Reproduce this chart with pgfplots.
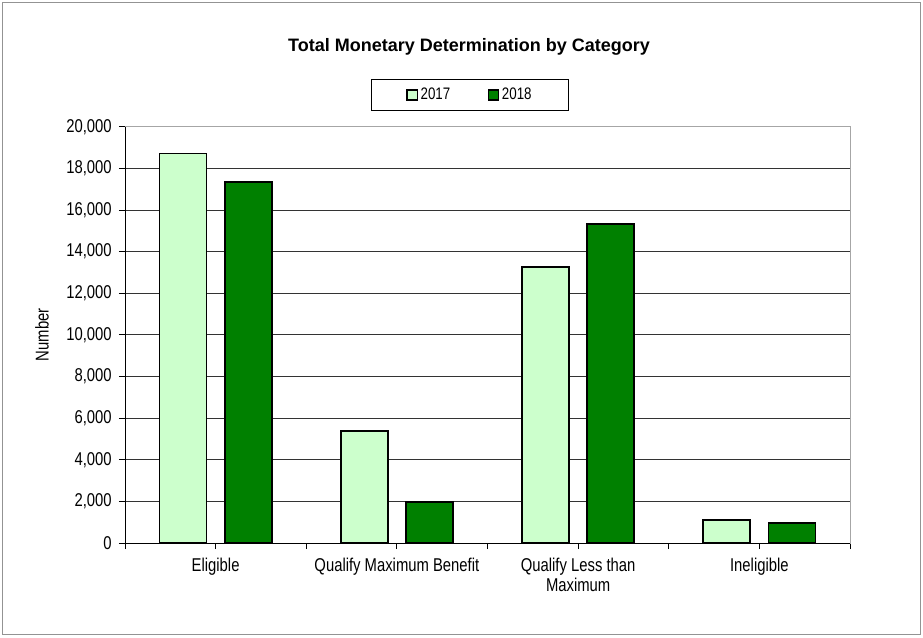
\documentclass[border=0pt]{standalone}
\usepackage{fontspec}
\setmainfont{Liberation Sans}
\newfontfamily\narrowfont{Liberation Sans}[FakeStretch=0.8]
\usepackage{pgfplots}
\pgfplotsset{compat=1.18}

\definecolor{light}{HTML}{CCFFCC}
\definecolor{dark}{HTML}{008000}

% 1 px of the reference = 0.75pt
\begin{document}
\begin{tikzpicture}
  \useasboundingbox (0,0) rectangle (692.25pt,477.75pt);
  \draw[gray!85, line width=0.8pt] (1.9pt,1.9pt) rectangle (690.3pt,475.8pt);

  \node[anchor=base, font=\fontsize{13.5pt}{16pt}\selectfont\bfseries]
    at (351.8pt,439pt) {Total Monetary Determination by Category};

  \node[rotate=90, font=\narrowfont\fontsize{13.9pt}{15pt}\selectfont]
    at (31.5pt,226.6pt) {Number};

  \begin{axis}[
    scale only axis,
    width=543.75pt, height=312.2pt,
    at={(93.75pt,70.5pt)}, anchor=south west,
    ybar,
    bar width=35.25pt,
    xmin=-0.5, xmax=3.5,
    ymin=0, ymax=20000,
    xtick={0,1,2,3},
    xticklabels={Eligible, Qualify Maximum Benefit, Qualify Less than\\Maximum, Ineligible},
    minor xtick={-0.5,0.5,1.5,2.5,3.5},
    ytick={0,2000,...,20000},
    scaled y ticks=false,
    /pgf/number format/.cd, 1000 sep={,}, assume math mode=true, /pgfplots/.cd,
    tick align=outside,
    xtick pos=bottom, ytick pos=left,
    major tick length=4.5pt, minor tick length=4.5pt,
    tick style={black, line width=0.6pt},
    ymajorgrids,
    grid style={black!80, line width=0.6pt},
    axis line style={gray!70, line width=0.7pt},
    ticklabel style={font=\narrowfont\fontsize{13.9pt}{15pt}\selectfont},
    xticklabel style={align=center, yshift=-3pt},
    yticklabel style={xshift=-2pt},
    legend style={
      at={(0.4763,1.076)}, anchor=center,
      legend columns=2,
      draw=black, line width=0.7pt,
      font=\narrowfont\fontsize{12.5pt}{14pt}\selectfont,
      inner xsep=26pt, inner ysep=4.5pt,
      /tikz/every even column/.append style={column sep=26pt},
    },
    legend image code/.code={
      \draw[#1, line width=1.1pt, bar shift=0pt] (0pt,-3.8pt) rectangle (7.6pt,3.8pt);
    },
  ]
  \addplot[fill=light, draw=black, line width=1.3pt, bar shift=-24.5pt]
    coordinates {(0,18720) (1,5390) (2,13270) (3,1105)};
  \addlegendentry{2017}
  \addplot[fill=dark, draw=black, line width=1.3pt, bar shift=24.5pt]
    coordinates {(0,17330) (1,1985) (2,15320) (3,975)};
  \addlegendentry{2018}

  \draw[black, line width=0.7pt] (rel axis cs:0,0) -- (rel axis cs:1,0);
  \draw[black, line width=0.7pt] (rel axis cs:0,0) -- (rel axis cs:0,1);
  \end{axis}
\end{tikzpicture}
\end{document}
